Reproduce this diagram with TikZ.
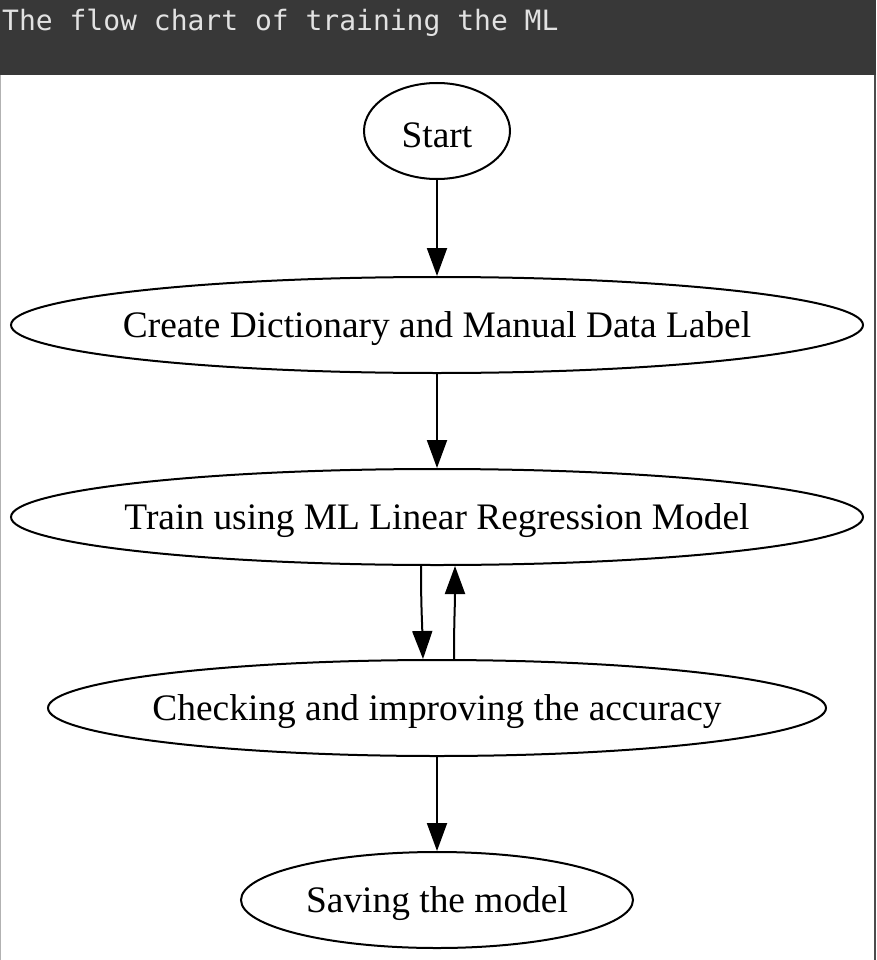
\documentclass[tikz,border=0pt]{standalone}
\usepackage{fontspec}
\setmainfont{Liberation Serif}
\newfontfamily\headmono{DejaVu Sans Mono}
\usetikzlibrary{shapes.geometric,arrows.meta}
\definecolor{headbg}{HTML}{383838}
\definecolor{headfg}{HTML}{E2E2E2}
\tikzset{
  flownode/.style={draw=black, line width=2pt, ellipse, inner sep=0pt,
    minimum height=96pt},
  flowtext/.style={yshift=-4pt, inner sep=0pt, font=\fontsize{37.4}{40}\selectfont},
  flowarrow/.style={draw=black, line width=2pt,
    -{Triangle[length=28pt,width=20pt]}}
}
\begin{document}
\begin{tikzpicture}[x=1pt,y=-1pt]
\useasboundingbox (0,0) rectangle (876,960);
\fill[white] (0,0) rectangle (876,960);
\fill[headbg] (0,0) rectangle (876,75);
\node[anchor=base west, inner sep=0pt, text=headfg, font=\headmono\fontsize{28}{30}\selectfont] (title) at (2,31) {The flow chart of training the ML};
\draw[color=gray!60, line width=1.2pt] (0.6,75) -- (0.6,960);
\draw[color=headbg!90, line width=2.5pt] (874.8,75) -- (874.8,960);
\node[flownode, minimum width=146pt, label={[flowtext]center:{Start}}] (start) at (437,131) {};
\node[flownode, minimum width=852pt, label={[flowtext]center:{Create Dictionary and Manual Data Label}}] (create) at (437,325) {};
\node[flownode, minimum width=852pt, label={[flowtext]center:{Train using ML Linear Regression Model}}] (train) at (437,517) {};
\node[flownode, minimum width=778pt, label={[flowtext]center:{Checking and improving the accuracy}}] (check) at (437,708) {};
\node[flownode, minimum width=392pt, label={[flowtext]center:{Saving the model}}] (save) at (437,900) {};
\draw[flowarrow] (start) -- (create);
\draw[flowarrow] (create) -- (train);
\draw[flowarrow] ([xshift=-16pt]train.south) .. controls ([xshift=-16pt, yshift=-40pt]train.south) and ([xshift=-15pt, yshift=40pt]check.north) .. ([xshift=-14pt]check.north);
\draw[flowarrow] ([xshift=17pt]check.north) .. controls ([xshift=17pt, yshift=40pt]check.north) and ([xshift=18pt, yshift=-40pt]train.south) .. ([xshift=18pt]train.south);
\draw[flowarrow] (check) -- (save);
\end{tikzpicture}
\end{document}
